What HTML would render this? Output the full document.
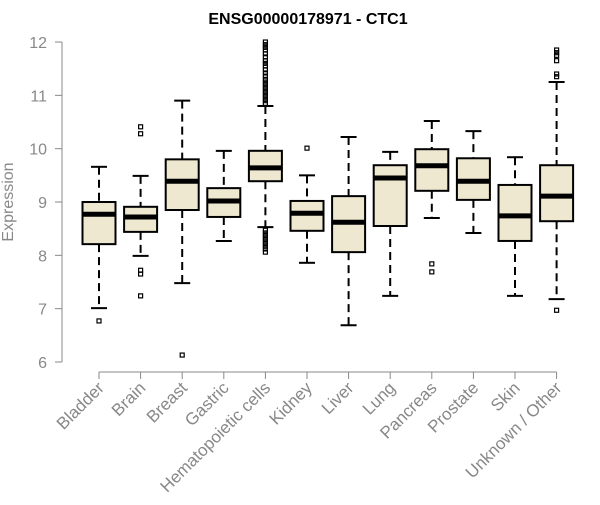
<!DOCTYPE html>
<html><head><meta charset="utf-8"><style>
body{margin:0;background:#fff}
svg text{font-family:"Liberation Sans",Arial,sans-serif}
</style></head><body>
<svg id="c" width="600" height="500"></svg>
<script>
const categories=["Bladder","Brain","Breast","Gastric","Hematopoietic cells","Kidney","Liver","Lung","Pancreas","Prostate","Skin","Unknown / Other"];
const lowWhisker=[7.01,7.99,7.48,8.27,8.53,7.86,6.69,7.24,8.70,8.42,7.24,7.18];
const q1=[8.21,8.44,8.85,8.72,9.39,8.46,8.06,8.55,9.21,9.04,8.27,8.64];
const median=[8.77,8.72,9.39,9.02,9.64,8.79,8.62,9.45,9.68,9.39,8.74,9.11];
const q3=[9.00,8.91,9.80,9.26,9.96,9.02,9.11,9.69,9.99,9.82,9.32,9.69];
const highWhisker=[9.66,9.49,10.90,9.96,10.80,9.50,10.22,9.94,10.52,10.33,9.84,11.25];
const outliers=[[6.77],[10.41,10.28,7.72,7.65,7.24],[6.13],[],
[12.0,11.95,11.9,11.85,11.78,11.72,11.65,11.6,11.55,11.48,11.42,11.36,11.3,11.25,11.2,11.15,11.1,11.05,11.0,10.95,10.9,10.85,8.47,8.42,8.37,8.32,8.27,8.22,8.17,8.12,8.06],
[10.01],[],[],[7.84,7.69],[],[],[11.85,11.8,11.75,11.65,11.4,11.35,6.97]];
const yTicks=[6,7,8,9,10,11,12];
const NS="http://www.w3.org/2000/svg";
const svg=document.getElementById('c');
const y=v=>362-(v-6)*53.33;
const x=i=>99+i*41.6;
function mk(t,a,p){const e=document.createElementNS(NS,t);for(const k in a)e.setAttribute(k,a[k]);(p||svg).appendChild(e);return e;}
let t=mk('text',{x:308,y:24,'text-anchor':'middle','font-size':16,'font-weight':'bold',fill:'#000'});t.textContent="ENSG00000178971 - CTC1";


let ax=mk('line',{x1:62,y1:y(12),x2:62,y2:y(6),stroke:'#888'});


yTicks.forEach(v=>{mk('line',{x1:55,x2:62,y1:y(v),y2:y(v),stroke:'#888'});
let l=mk('text',{x:47,y:y(v)+6,'text-anchor':'end','font-size':16,fill:'#888'});l.textContent=v;

});
let yt=mk('text',{x:0,y:0,transform:'translate(13,202) rotate(-90)','text-anchor':'middle','font-size':16,fill:'#888'});yt.textContent="Expression";


let xa=mk('line',{x1:x(0),x2:x(11),y1:372,y2:372,stroke:'#888'});


categories.forEach((c,i)=>{const cx=x(i),w=16.5;
const g=mk('g',{});


mk('line',{x1:cx,x2:cx,y1:y(highWhisker[i]),y2:y(q3[i]),stroke:'#000','stroke-width':2,'stroke-dasharray':'8,5'},g);
mk('line',{x1:cx,x2:cx,y1:y(q1[i]),y2:y(lowWhisker[i]),stroke:'#000','stroke-width':2,'stroke-dasharray':'8,5'},g);
mk('line',{x1:cx-8,x2:cx+8,y1:y(highWhisker[i]),y2:y(highWhisker[i]),stroke:'#000','stroke-width':2},g);
mk('line',{x1:cx-8,x2:cx+8,y1:y(lowWhisker[i]),y2:y(lowWhisker[i]),stroke:'#000','stroke-width':2},g);
mk('rect',{x:cx-w,y:y(q3[i]),width:2*w,height:y(q1[i])-y(q3[i]),fill:'#efe8d0',stroke:'#000','stroke-width':2},g);
mk('line',{x1:cx-w,x2:cx+w,y1:y(median[i]),y2:y(median[i]),stroke:'#000','stroke-width':5},g);
outliers[i].forEach(o=>mk('rect',{x:cx-2,y:y(o)-2,width:4,height:4,fill:'none',stroke:'#000','stroke-width':1.2},g));
mk('line',{x1:cx,x2:cx,y1:372,y2:379,stroke:'#888'});
let l=mk('text',{x:0,y:0,transform:`translate(${cx+6},389) rotate(-45)`,'text-anchor':'end','font-size':17,fill:'#888'});l.textContent=c;

});
</script></body></html>
